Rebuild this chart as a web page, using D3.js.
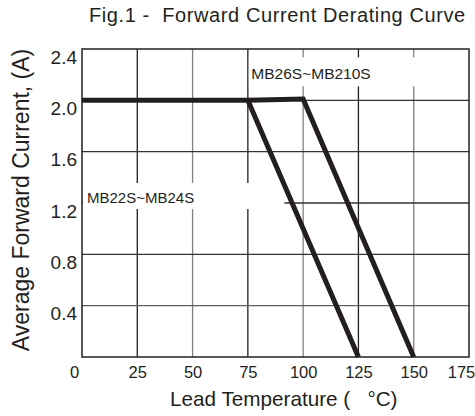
<!DOCTYPE html>
<html>
<head>
<meta charset="utf-8">
<script src="https://cdn.jsdelivr.net/npm/d3@7"></script>
<style>
body { margin: 0; background: #fff; }
text { font-family: "Liberation Sans", Arial, Helvetica, sans-serif; fill: #231f20; white-space: pre; }
</style>
</head>
<body>
<div id="chart"></div>
<script>
// chart values
var xTicks = [0, 25, 50, 75, 100, 125, 150, 175];
var yTicks = [0.4, 0.8, 1.2, 1.6, 2.0, 2.4];
var tempsA = [0, 75, 125];
var currentA = [2.0, 2.0, 0];
var tempsB = [75, 100, 150];
var currentB = [2.0, 2.01, 0];
var labelA = "MB22S~MB24S";
var labelB = "MB26S~MB210S";
var title = "Fig.1 -  Forward Current Derating Curve";
var xTitle = "Lead Temperature (   \u00B0C)";
var yTitle = "Average Forward Current, (A)";

var margin = { left: 82, right: 6, top: 49, bottom: 59 };
var width = 475 - margin.left - margin.right,
	height = 416 - margin.top - margin.bottom;

var svg = d3.select("#chart")
	.append("svg")
	.attr("width", 475)
	.attr("height", 416);

var g = svg.append("g")
	.attr("transform", "translate(" + margin.left + ", " + margin.top + ")");

var x = d3.scaleLinear().domain([0, 175]).range([0, width]);
var y = d3.scaleLinear().domain([0, 2.4]).range([height, 0]);

// grid lines
g.selectAll("line.vgrid")
	.data(xTicks.slice(1, -1))
	.enter().append("line")
		.attr("class", "vgrid")
		.attr("x1", function(d){ return x(d); })
		.attr("x2", function(d){ return x(d); })
		.attr("y1", 0)
		.attr("y2", height)
		.attr("stroke", function(d, i){ return i % 2 == 0 ? "#231f20" : "#808080"; })
		.attr("stroke-width", 1.3);

g.selectAll("line.hgrid")
	.data(yTicks.slice(0, -1))
	.enter().append("line")
		.attr("class", "hgrid")
		.attr("x1", 0)
		.attr("x2", width)
		.attr("y1", function(d){ return y(d); })
		.attr("y2", function(d){ return y(d); })
		.attr("stroke", function(d, i){ return i == 0 ? "#606060" : "#333"; })
		.attr("stroke-width", 1.3);

// white boxes behind the labels
g.append("rect")
	.attr("x", x(0) + 1)
	.attr("y", y(1.2) - 20)
	.attr("width", x(91.5) - x(0) - 1)
	.attr("height", 26)
	.attr("fill", "#fff");

g.append("rect")
	.attr("x", x(75) + 1)
	.attr("y", y(2.0) - 43)
	.attr("width", x(171) - x(75))
	.attr("height", 29)
	.attr("fill", "#fff");

g.append("text")
	.attr("x", x(0) + 5)
	.attr("y", y(1.2) - 0.5)
	.attr("font-size", "15px")
	.text(labelA);

g.append("text")
	.attr("x", x(75) + 3.5)
	.attr("y", y(2.0) - 21)
	.attr("font-size", "15.5px")
	.text(labelB);

// frame
g.append("rect")
	.attr("x", 0)
	.attr("y", 0)
	.attr("width", width)
	.attr("height", height)
	.attr("fill", "none")
	.attr("stroke", "#231f20")
	.attr("stroke-width", 1.5);

// axes (labels only)
var xAxisCall = d3.axisBottom(x)
	.tickValues(xTicks)
	.tickSize(0)
	.tickPadding(9);
var xAxis = g.append("g")
	.attr("transform", "translate(0, " + height + ")")
	.call(xAxisCall);
xAxis.select(".domain").remove();
xAxis.selectAll("text")
	.attr("font-size", "16.5px")
	.attr("font-family", null)
	.attr("fill", "#231f20")
	.attr("dx", function(d){ return d == 0 ? -8 : (d == 175 ? -8 : 0); });

var yAxisCall = d3.axisLeft(y)
	.tickValues(yTicks)
	.tickSize(0)
	.tickPadding(5)
	.tickFormat(d3.format(".1f"));
var yAxis = g.append("g").call(yAxisCall);
yAxis.select(".domain").remove();
yAxis.selectAll("text")
	.attr("font-size", "19px")
	.attr("font-family", null)
	.attr("fill", "#231f20")
	.attr("dy", 0)
	.attr("y", 14);

// curves
var line = d3.line()
	.x(function(d){ return x(d[0]); })
	.y(function(d){ return y(d[1]); });

g.append("path")
	.datum(d3.zip(tempsA, currentA))
	.attr("d", line)
	.attr("fill", "none")
	.attr("stroke", "#231f20")
	.attr("stroke-width", 5);

g.append("path")
	.datum(d3.zip(tempsB, currentB))
	.attr("d", line)
	.attr("fill", "none")
	.attr("stroke", "#231f20")
	.attr("stroke-width", 5);

// titles
svg.append("text")
	.attr("x", 89)
	.attr("y", 22)
	.attr("font-size", "20px")
	.attr("letter-spacing", "0.6px")
	.text(title);

svg.append("text")
	.attr("x", 170)
	.attr("y", 406)
	.attr("font-size", "20.7px")
	.text(xTitle);

svg.append("text")
	.attr("transform", "translate(29, 200) rotate(-90)")
	.attr("text-anchor", "middle")
	.attr("font-size", "23px")
	.text(yTitle);
</script>
</body>
</html>
